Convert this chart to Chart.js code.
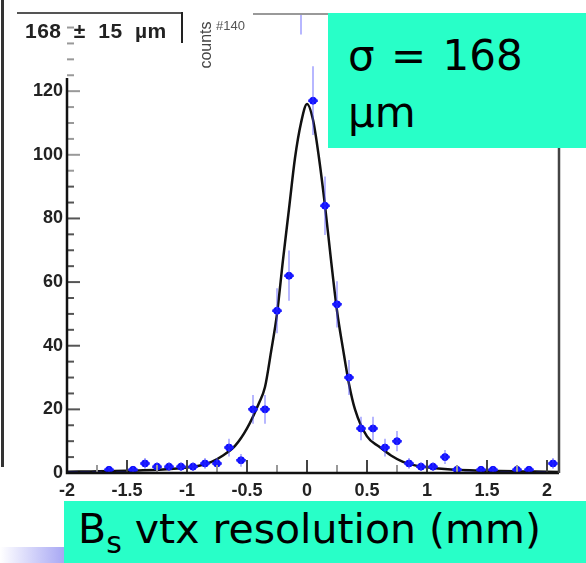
<!DOCTYPE html>
<html>
<head>
<meta charset="utf-8">
<title>Bs vtx resolution</title>
<script src="https://cdn.jsdelivr.net/npm/chart.js@4.4.0/dist/chart.umd.min.js"></script>
<style>
  body { margin: 0; background: #fff; }
  #wrap { position: relative; width: 586px; height: 563px; overflow: hidden; }
  #myChart { position: absolute; left: 0; top: 0; }
  .teal { position: absolute; background: #28ffc8; }
  .lbl { position: absolute; font-family: "DejaVu Sans", sans-serif; color: #000; line-height: 1; white-space: nowrap; }
</style>
</head>
<body>
<div id="wrap">
  <canvas id="myChart" width="586" height="563"></canvas>

  <!-- bits of the slide around the plot -->
  <div style="position:absolute;left:1px;top:0;width:3px;height:467px;background:#333;"></div>
  <div style="position:absolute;left:17px;top:12px;width:165px;height:2px;background:#555;"></div>
  <div style="position:absolute;left:181px;top:12px;width:2px;height:31px;background:#222;"></div>
  <div style="position:absolute;left:253px;top:13px;width:80px;height:2px;background:#999;"></div>
  <div class="lbl" style="left:25px;top:20px;font-family:'Liberation Sans';font-weight:bold;font-size:21px;color:#222;word-spacing:6px;letter-spacing:0.5px;">168 ± 15 µm</div>
  <div class="lbl" style="left:182px;top:37px;font-family:'Liberation Sans';font-size:16px;color:#444;transform:rotate(-90deg);">counts</div>
  <div class="lbl" style="left:216px;top:19px;font-family:'Liberation Sans';font-size:13px;color:#555;">#140</div>

  <div class="teal" style="left:328px;top:13px;width:258px;height:135px;"></div>
  <div class="lbl" style="left:348px;top:35px;font-size:42px;word-spacing:3px;">σ = 168</div>
  <div class="lbl" style="left:348px;top:92px;font-size:42px;">µm</div>

  <div style="position:absolute;left:0;top:547px;width:64px;height:16px;background:linear-gradient(to right,#ffffff,#a8a8f4);"></div>
  <div class="teal" style="left:64px;top:501px;width:522px;height:62px;"></div>
  <div class="lbl" style="left:78px;top:509px;font-size:41px;">B<span style="font-size:30px;position:relative;top:10px;">s</span> vtx resolution (mm)</div>
</div>

<script>
// bin centres (mm) and counts
var binCenters = [-1.95, -1.85, -1.75, -1.65, -1.55, -1.45, -1.35, -1.25, -1.15, -1.05,
                  -0.95, -0.85, -0.75, -0.65, -0.55, -0.45, -0.35, -0.25, -0.15, -0.05,
                   0.05,  0.15,  0.25,  0.35,  0.45,  0.55,  0.65,  0.75,  0.85,  0.95,
                   1.05,  1.15,  1.25,  1.35,  1.45,  1.55,  1.65,  1.75,  1.85,  1.95, 2.05];
var counts = [0, 0, 0, 1, 0, 1, 3, 2, 2, 2,
              2, 3, 3, 8, 4, 20, 20, 51, 62, 150,
              117, 84, 53, 30, 14, 14, 8, 10, 3, 2,
              2, 5, 1, 0, 1, 1, 0, 1, 1, 0, 3];
var countErrors = [0, 0, 0, 1, 0, 1, 1.7, 1.4, 1.4, 1.4,
                   1.4, 1.7, 1.7, 2.8, 2, 4.5, 4.5, 7.1, 7.9, 12.2,
                   10.8, 9.2, 7.3, 5.5, 3.7, 3.7, 2.8, 3.2, 1.7, 1.4,
                   1.4, 2.2, 1, 0, 1, 1, 0, 1, 1, 0, 1.7];
var binHalf = 0.04;

// fitted curve
var fitX = [-2.0, -1.8, -1.6, -1.4, -1.2, -1.0, -0.9, -0.8, -0.7, -0.6, -0.5, -0.4, -0.35, -0.3, -0.25,
            -0.2, -0.15, -0.1, -0.05, 0, 0.05, 0.1, 0.15, 0.2, 0.25, 0.3, 0.35, 0.4, 0.5, 0.6,
             0.7, 0.8, 0.9, 1.0, 1.2, 1.4, 1.6, 1.8, 2.0, 2.1];
var fitY = [0.4, 0.5, 0.6, 0.8, 1.1, 1.7, 2.3, 3.4, 5.5, 8.5, 14, 22, 27, 38, 50,
            67, 83, 99, 110, 116, 111, 99, 84, 67, 51, 39, 28, 20, 11.5, 8.3,
            5.5, 3.5, 2.4, 1.8, 1.1, 0.8, 0.6, 0.5, 0.4, 0.35];

var xTicks = [-2, -1.5, -1, -0.5, 0, 0.5, 1, 1.5, 2];
var yTicks = [0, 20, 40, 60, 80, 100, 120];

var tickFont = { family: 'Liberation Sans', size: 18, weight: 'bold' };

function fmt(v) {
    return String(v);
}

// error bars: vertical stat error + horizontal bin marker
var errorBars = {
    id: 'errorBars',
    afterDatasetsDraw: function (chart) {
        var ctx = chart.ctx;
        var xs = chart.scales.x, ys = chart.scales.y;
        var a = chart.chartArea;
        ctx.save();
        ctx.beginPath();
        ctx.rect(a.left, a.top, a.right - a.left, a.bottom - a.top);
        ctx.clip();
        for (var i = 0; i < binCenters.length; i++) {
            var px = xs.getPixelForValue(binCenters[i]);
            var py = ys.getPixelForValue(counts[i]);
            if (countErrors[i] > 0) {
                ctx.strokeStyle = 'rgba(80,80,255,0.55)';
                ctx.lineWidth = 1.5;
                ctx.beginPath();
                ctx.moveTo(px, ys.getPixelForValue(counts[i] - countErrors[i]));
                ctx.lineTo(px, ys.getPixelForValue(counts[i] + countErrors[i]));
                ctx.stroke();
            }
            ctx.strokeStyle = '#1a1aff';
            ctx.lineWidth = 2.5;
            ctx.beginPath();
            ctx.moveTo(xs.getPixelForValue(binCenters[i] - binHalf), py);
            ctx.lineTo(xs.getPixelForValue(binCenters[i] + binHalf), py);
            ctx.stroke();
        }
        ctx.restore();
    }
};

// ROOT style frame with ticks pointing into the pad
var frame = {
    id: 'frame',
    afterDraw: function (chart) {
        var ctx = chart.ctx;
        var xs = chart.scales.x, ys = chart.scales.y;
        var a = chart.chartArea;
        ctx.save();
        ctx.lineCap = 'butt';
        // y ticks
        for (var v = 0; v <= 140; v += 5) {
            var py = ys.getPixelForValue(v);
            var major = yTicks.indexOf(v) >= 0;
            ctx.strokeStyle = v > 90 ? '#999' : '#555';
            ctx.lineWidth = 2;
            ctx.beginPath();
            ctx.moveTo(a.left, py);
            ctx.lineTo(a.left + (major ? 13 : 7), py);
            ctx.stroke();
        }
        // x ticks
        for (var t = -2; t <= 2.001; t += 0.25) {
            var px = xs.getPixelForValue(t);
            var big = Math.abs(t * 2 - Math.round(t * 2)) < 1e-6;
            ctx.strokeStyle = big ? '#444' : '#999';
            ctx.lineWidth = 2;
            ctx.beginPath();
            ctx.moveTo(px, a.bottom);
            ctx.lineTo(px, a.bottom - (big ? 13 : 8));
            ctx.stroke();
        }
        // axis lines
        ctx.strokeStyle = '#111';
        ctx.lineWidth = 2.5;
        ctx.beginPath();
        ctx.moveTo(a.left, 78);
        ctx.lineTo(a.left, a.bottom);
        ctx.lineTo(a.right, a.bottom);
        ctx.stroke();
        ctx.strokeStyle = '#444';
        ctx.lineWidth = 2.5;
        ctx.beginPath();
        ctx.moveTo(a.right, a.top);
        ctx.lineTo(a.right, a.bottom);
        ctx.stroke();
        ctx.restore();
    }
};

var ctx = document.getElementById('myChart');
var chart = new Chart(ctx, {
    type: 'scatter',
    data: {
        datasets: [{
            label: 'data',
            data: binCenters.map(function (c, i) { return { x: c, y: counts[i] }; }),
            backgroundColor: '#0a0aff',
            borderColor: '#0a0aff',
            pointRadius: counts.map(function (n) { return n > 0 ? 3.5 : 0; }),
            pointHoverRadius: 0,
            showLine: false
        }, {
            label: 'fit',
            data: fitX.map(function (x, i) { return { x: x, y: fitY[i] }; }),
            borderColor: '#111',
            borderWidth: 2.5,
            pointRadius: 0,
            showLine: true,
            cubicInterpolationMode: 'monotone'
        }]
    },
    options: {
        responsive: false,
        animation: false,
        layout: { padding: { top: 13, right: 27, left: 0, bottom: 0 } },
        plugins: { legend: { display: false }, tooltip: { enabled: false } },
        scales: {
            x: {
                type: 'linear',
                min: -2, max: 2.1,
                grid: { display: false, drawTicks: false },
                border: { display: false },
                afterBuildTicks: function (axis) {
                    axis.ticks = xTicks.map(function (v) { return { value: v }; });
                },
                afterFit: function (axis) { axis.height = 90; },
                ticks: {
                    autoSkip: false, maxRotation: 0, padding: 7,
                    color: '#222', font: tickFont,
                    callback: function (v) { return fmt(v); }
                }
            },
            y: {
                type: 'linear',
                min: 0, max: 144,
                grid: { display: false, drawTicks: false },
                border: { display: false },
                afterBuildTicks: function (axis) {
                    axis.ticks = yTicks.map(function (v) { return { value: v }; });
                },
                afterFit: function (axis) { axis.width = 67; },
                ticks: {
                    autoSkip: false, padding: 4,
                    color: '#222', font: tickFont,
                    callback: function (v) { return fmt(v); }
                }
            }
        }
    },
    plugins: [errorBars, frame]
});
</script>
</body>
</html>
